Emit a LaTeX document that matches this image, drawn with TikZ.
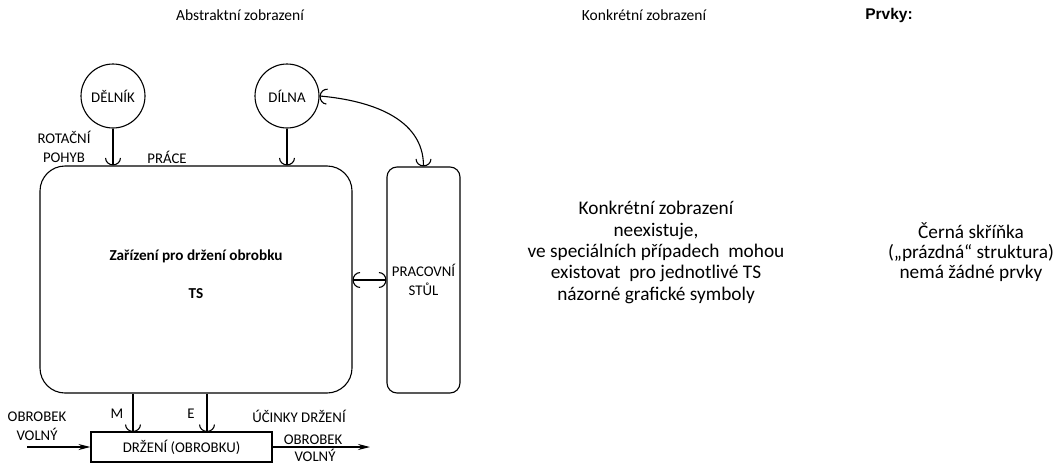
\documentclass[tikz,border=0pt]{standalone}
\usepackage{fontspec}
\setmainfont{Carlito}
\newfontfamily\arialfont{Liberation Sans}
\usetikzlibrary{arrows.meta,positioning}

\begin{document}
\begin{tikzpicture}
  [x=1pt,y=-1pt,line width=1.1pt,
   every node/.style={font=\fontsize{14.8}{18.5}\selectfont,align=center,inner sep=0pt},
   ent/.style={circle,draw,minimum size=64pt},
   blok/.style={rectangle,draw,rounded corners=#1},
   blok/.default=10pt,
   barb/.style={-{Arc Barb[width=16pt,length=7.5pt]}},
   flow/.style={-{Stealth[length=12pt,width=6pt]}},
   word/.style={draw=none,fill=none},
   note/.style={font=\fontsize{19.3}{21.3}\selectfont}]
  \useasboundingbox (0,0) rectangle (1057,463);
  % headings
  \node[word,font=\fontsize{15.5}{18}\selectfont] (t1) at (240,15) {Abstraktní zobrazení};
  \node[word,font=\fontsize{15.5}{18}\selectfont] (t2) at (644,15) {Konkrétní zobrazení};
  \node[word,font=\arialfont\bfseries\fontsize{15.5}{18}\selectfont] (t3) at (889,15) {Prvky:};
  % abstract view
  \node[ent] (delnik) at (113,96) {DĚLNÍK};
  \node[ent] (dilna) at (287,96) {DÍLNA};
  \node[blok=25pt,minimum width=312pt,minimum height=227pt] (ts) at (196,279.5) {};
  \node[word,font=\bfseries\fontsize{15.2}{18.5}\selectfont] (tstext) at (196,274) {Zařízení pro držení obrobku\\[19pt]TS};
  \node[blok,minimum width=73pt,minimum height=226pt] (stul) at (423.5,280) {PRACOVNÍ\\STŮL};
  \node[blok=0pt,minimum width=181pt,minimum height=30pt] (drzeni) at (181.5,447) {DRŽENÍ (OBROBKU)};
  \node[word] (rot) at (64,147) {ROTAČNÍ\\POHYB};
  \node[word] (prace) at (167,157) {PRÁCE};
  \node[word] (lm) at (117,414) {M};
  \node[word] (le) at (191,414) {E};
  \node[word] (ucinky) at (299,416) {ÚČINKY DRŽENÍ};
  \node[word] (vin) at (37,426) {OBROBEK\\VOLNÝ};
  \node[word] (vout1) at (313,440) {OBROBEK};
  \node[word] (vout2) at (315,455) {VOLNÝ};
  \coordinate (m) at (133,432);
  \coordinate (e) at (207,432);
  \coordinate (vstup) at (27,447);
  \coordinate (vystup) at (370,447);
  \coordinate (p1) at (delnik |- ts.north);
  \coordinate (p2) at (dilna |- ts.north);
  \coordinate (m0) at (m |- ts.south);
  \coordinate (e0) at (e |- ts.south);
  \foreach \from/\to in {delnik/p1,dilna/p2,m0/m,e0/e}
    \draw[barb] (\from) -- (\to);
  \draw[{Arc Barb[width=16pt,length=7.5pt]}-{Arc Barb[width=16pt,length=7.5pt]}]
    (dilna.east) to[out=-5,in=90] (stul.north);
  \draw[{Arc Barb[width=16pt,length=7.5pt]}-{Arc Barb[width=16pt,length=7.5pt]}]
    (ts.east |- stul) -- (stul.west);
  \draw[flow] (vstup) -- (drzeni.west);
  \draw[flow] (drzeni.east) -- (vystup);
  % concrete view and elements
  \node[word,note] (konkr) at (656,252.5) {Konkrétní zobrazení\\neexistuje,\\ve speciálních případech~ mohou\\existovat~ pro jednotlivé TS\\názorné grafické symboly};
  \node[word,note,font=\fontsize{19.3}{20}\selectfont] (cerna) at (971,252) {Černá skříňka\\(„prázdná“ struktura)\\nemá žádné prvky};
\end{tikzpicture}
\end{document}
